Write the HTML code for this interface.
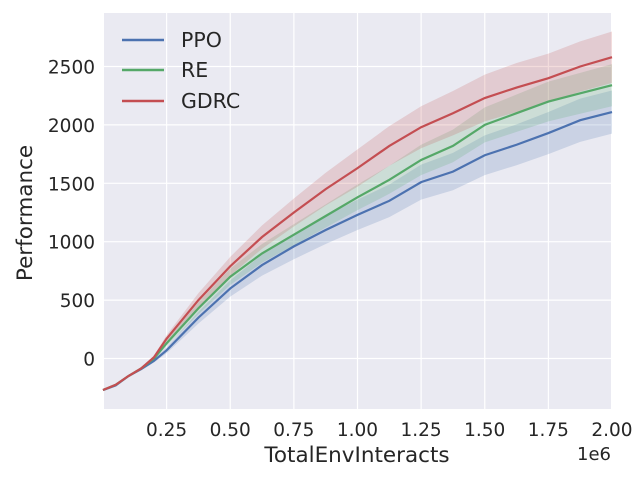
<!DOCTYPE html>
<html><head><meta charset="utf-8"><style>
body{margin:0;background:#fff;}
svg{display:block;font-family:"DejaVu Sans","Liberation Sans",sans-serif;}
</style></head><body>
<svg id="chart" width="640" height="480">
<rect x="104" y="13" width="507" height="396" fill="#eaeaf2"/>
<g id="grid"></g><g id="bands"></g><g id="lines"></g><g id="ticks"></g>
<text x="357" y="462" text-anchor="middle" font-size="21.5" fill="#262626">TotalEnvInteracts</text>
<text x="32" y="213" text-anchor="middle" font-size="21.5" fill="#262626" transform="rotate(-90 32 213)">Performance</text>
<text x="611" y="460" text-anchor="end" font-size="18" fill="#262626">1e6</text>
<g>
<line x1="122" y1="40" x2="164" y2="40" stroke="#4c72b0" stroke-width="2.5"/>
<text x="181" y="47" font-size="20.5" fill="#262626">PPO</text>
<line x1="122" y1="70" x2="164" y2="70" stroke="#55a868" stroke-width="2.5"/>
<text x="181" y="77" font-size="20.5" fill="#262626">RE</text>
<line x1="122" y1="101" x2="164" y2="101" stroke="#c44e52" stroke-width="2.5"/>
<text x="181" y="108" font-size="20.5" fill="#262626">GDRC</text>
</g>
</svg>
<script>
const xVals=[0,0.05,0.1,0.15,0.2,0.25,0.375,0.5,0.625,0.75,0.875,1.0,1.125,1.25,1.375,1.5,1.625,1.75,1.875,2.0];
const ppo=[-270,-230,-150,-90,-20,70,350,600,800,960,1100,1230,1350,1510,1600,1740,1830,1930,2040,2110];
const ppoStd=[5,8,10,12,15,25,50,70,90,110,120,130,140,150,160,170,175,180,185,185];
const re=[-270,-225,-150,-85,0,130,430,700,900,1060,1220,1380,1530,1700,1820,2000,2100,2200,2270,2340];
const reStd=[5,8,10,12,15,25,50,70,80,90,100,110,120,130,140,150,160,170,175,180];
const gdrc=[-270,-225,-150,-85,10,170,500,790,1040,1250,1450,1630,1820,1980,2100,2230,2320,2400,2500,2580];
const gdrcStd=[5,8,10,12,15,30,60,80,100,120,140,160,170,180,190,200,210,210,215,220];
const xTicks=[0.25,0.5,0.75,1.0,1.25,1.5,1.75,2.0];
const xTickLabels=["0.25","0.50","0.75","1.00","1.25","1.50","1.75","2.00"];
const yTicks=[0,500,1000,1500,2000,2500];
const NS="http://www.w3.org/2000/svg";
const X=v=>103+v*254.5;
const Y=v=>358.5-v*0.1168;
function mk(p,t,a){const e=document.createElementNS(NS,t);for(const k in a)e.setAttribute(k,a[k]);document.getElementById(p).appendChild(e);return e;}
xTicks.forEach((t,i)=>{
 const g=mk('grid','line',{x1:X(t),x2:X(t),y1:13,y2:409,stroke:'#fff','stroke-width':1.2});
 
 
 const l=mk('ticks','text',{x:X(t),y:436,'text-anchor':'middle','font-size':18.5,fill:'#262626'});
 l.textContent=xTickLabels[i];
 
 
});
yTicks.forEach(t=>{
 const g=mk('grid','line',{x1:104,x2:611,y1:Y(t),y2:Y(t),stroke:'#fff','stroke-width':1.2});
 
 
 const l=mk('ticks','text',{x:95,y:Y(t)+7,'text-anchor':'end','font-size':18.5,fill:'#262626'});
 l.textContent=String(t);
 
 
});
function series(vals,std,color,name){
 let up=vals.map((v,i)=>X(xVals[i])+','+Y(v+std[i]));
 let dn=vals.map((v,i)=>X(xVals[i])+','+Y(v-std[i])).reverse();
 const b=mk('bands','polygon',{points:up.concat(dn).join(' '),fill:color,'fill-opacity':0.2});
 
 
 const l=mk('lines','polyline',{points:vals.map((v,i)=>X(xVals[i])+','+Y(v)).join(' '),fill:'none',stroke:color,'stroke-width':2.2});
 
 
}
series(ppo,ppoStd,'#4c72b0','ppo');
series(re,reStd,'#55a868','re');
series(gdrc,gdrcStd,'#c44e52','gdrc');
</script>
</body></html>
